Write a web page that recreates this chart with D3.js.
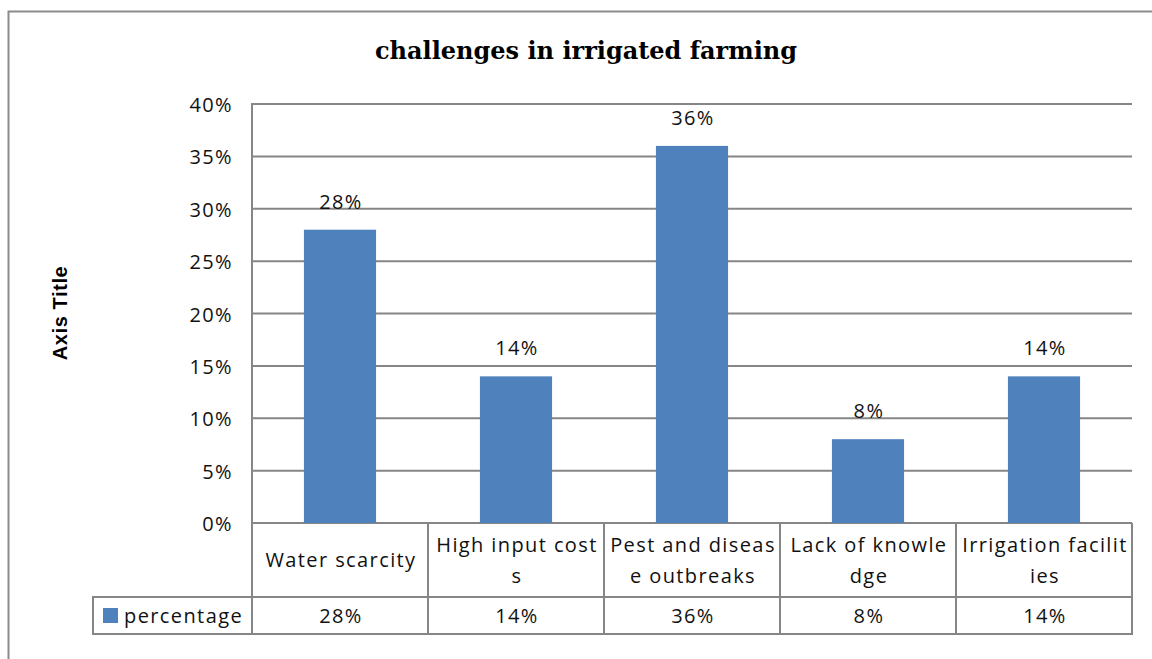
<!DOCTYPE html>
<html>
<head>
<meta charset="utf-8">
<script src="https://cdn.jsdelivr.net/npm/d3@7"></script>
<style>
  body { margin: 0; background: #fff; }
  svg { display: block; }
</style>
</head>
<body>
<svg width="1152" height="659"></svg>
<script>
// chart data
const categories = ["Water scarcity", "High input costs", "Pest and disease outbreaks", "Lack of knowledge", "Irrigation facilities"];
// how the category names are wrapped in the table
const categoryLines = [["Water scarcity"], ["High input cost", "s"], ["Pest and diseas", "e outbreaks"], ["Lack of knowle", "dge"], ["Irrigation facilit", "ies"]];
const values = [0.28, 0.14, 0.36, 0.08, 0.14];
const yTicks = [0, 0.05, 0.10, 0.15, 0.20, 0.25, 0.30, 0.35, 0.40];
const seriesName = "percentage";

var svg = d3.select("svg"),
  plot = {left: 252, right: 1132, top: 104, bottom: 523},
  headerBottom = 597,
  tableBottom = 634,
  legendLeft = 93,
  barColor = "#4F81BD",
  gridColor = "#868686",
  textColor = "#111",
  font = "'Open Sans', sans-serif",
  fontSize = "20px",
  spacing = "1.4px";

var x = d3.scaleBand()
  .domain(categories)
  .range([plot.left, plot.right])
  .paddingInner(0.59)
  .paddingOuter(0.295);

var col = d3.scaleBand()
  .domain(categories)
  .range([plot.left, plot.right]);

var y = d3.scaleLinear()
  .domain([0, 0.4])
  .range([plot.bottom, plot.top]);

var pct = d3.format(".0%");

// small helper for the body text style
function bodyText(sel) {
  return sel
    .style("font-family", font)
    .style("font-size", fontSize)
    .style("letter-spacing", spacing)
    .style("fill", textColor);
}

// outer chart border
svg.append("rect")
  .attr("x", 8.5).attr("y", 11.5)
  .attr("width", 1200).attr("height", 700)
  .attr("fill", "none").attr("stroke", "#8c8c8c").attr("stroke-width", 2);

// title
svg.append("text")
  .attr("x", 586).attr("y", 59)
  .attr("text-anchor", "middle")
  .style("font-family", "'DejaVu Serif', serif")
  .style("font-weight", "bold")
  .style("font-size", "24px")
  .text("challenges in irrigated farming");

// axis title
svg.append("text")
  .attr("transform", "translate(67,313) rotate(-90)")
  .attr("text-anchor", "middle")
  .style("font-family", "'Liberation Sans', Arial, sans-serif")
  .style("font-weight", "bold")
  .style("font-size", "20px")
  .style("letter-spacing", "0.6px")
  .text("Axis Title");

// gridlines
svg.append("g")
  .selectAll("line")
  .data(yTicks)
  .enter().append("line")
  .attr("x1", plot.left).attr("x2", plot.right)
  .attr("y1", d => y(d)).attr("y2", d => y(d))
  .attr("stroke", gridColor).attr("stroke-width", 2);

// y tick labels
svg.append("g")
  .selectAll("text")
  .data(yTicks)
  .enter().append("text")
  .attr("x", 233)
  .attr("y", d => y(d) + 8)
  .attr("text-anchor", "end")
  .call(bodyText)
  .text(d => pct(d));

// bars
svg.append("g")
  .selectAll("rect")
  .data(values)
  .enter().append("rect")
  .attr("x", (d, i) => x(categories[i]))
  .attr("width", x.bandwidth())
  .attr("y", d => y(d))
  .attr("height", d => y(0) - y(d))
  .attr("fill", barColor);

// data labels
svg.append("g")
  .selectAll("text")
  .data(values)
  .enter().append("text")
  .attr("x", (d, i) => x(categories[i]) + x.bandwidth() / 2 + 1)
  .attr("y", d => y(d) - 21)
  .attr("text-anchor", "middle")
  .call(bodyText)
  .text(d => pct(d));

// data table lines
var table = svg.append("g")
  .attr("stroke", gridColor).attr("stroke-width", 2).attr("fill", "none");

// left axis line continues down the table
table.append("line")
  .attr("x1", plot.left).attr("x2", plot.left)
  .attr("y1", plot.top - 1).attr("y2", tableBottom + 1);

table.selectAll("line.col")
  .data(categories)
  .enter().append("line")
  .attr("class", "col")
  .attr("x1", d => col(d) + col.bandwidth()).attr("x2", d => col(d) + col.bandwidth())
  .attr("y1", plot.bottom).attr("y2", tableBottom + 1);

table.append("line")
  .attr("x1", legendLeft).attr("x2", plot.right)
  .attr("y1", headerBottom).attr("y2", headerBottom);
table.append("line")
  .attr("x1", legendLeft).attr("x2", plot.right)
  .attr("y1", tableBottom).attr("y2", tableBottom);
table.append("line")
  .attr("x1", legendLeft).attr("x2", legendLeft)
  .attr("y1", headerBottom - 1).attr("y2", tableBottom + 1);

// category labels in header row
var header = svg.append("g")
  .selectAll("text")
  .data(categoryLines)
  .enter().append("text")
  .attr("text-anchor", "middle")
  .call(bodyText);

header.each(function(lines, i) {
  var cx = col(categories[i]) + col.bandwidth() / 2 + 1;
  var startY = lines.length === 1 ? 567 : 552;
  d3.select(this).selectAll("tspan")
    .data(lines)
    .enter().append("tspan")
    .attr("x", cx)
    .attr("y", (l, j) => startY + j * 31)
    .text(l => l);
});

// values row
svg.append("g")
  .selectAll("text")
  .data(values)
  .enter().append("text")
  .attr("x", (d, i) => col(categories[i]) + col.bandwidth() / 2 + 1)
  .attr("y", 623)
  .attr("text-anchor", "middle")
  .call(bodyText)
  .text(d => pct(d));

// legend key in the table
svg.append("rect")
  .attr("x", 103).attr("y", 608)
  .attr("width", 15).attr("height", 15)
  .attr("fill", barColor);
svg.append("text")
  .attr("x", 124).attr("y", 623)
  .call(bodyText)
  .text(seriesName);
</script>
</body>
</html>
